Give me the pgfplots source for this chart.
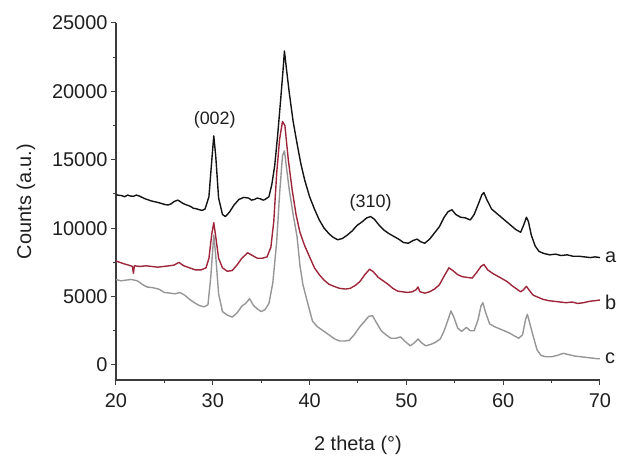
\documentclass[border=0pt]{standalone}
\usepackage{pgfplots}
\pgfplotsset{compat=1.18}
\usepackage{fontspec}
\setmainfont{Liberation Sans}
\definecolor{cA}{RGB}{20,20,20}
\definecolor{cB}{RGB}{158,38,58}
\definecolor{cC}{RGB}{150,150,150}
\definecolor{axc}{RGB}{60,60,60}
\begin{document}
\begin{tikzpicture}
\useasboundingbox (-116bp,-77bp) rectangle (501bp,380bp);
\begin{axis}[
  scale only axis,
  width=484bp, height=357bp,
  xmin=20, xmax=70, ymin=-1100, ymax=25000,
  axis lines*=left,
  axis line style={axc, line width=1.1bp},
  every tick/.style={axc, line width=1bp},
  tick align=outside,
  major tick length=5bp, minor tick length=3bp,
  xtick={20,30,40,50,60,70},
  ytick={0,5000,10000,15000,20000,25000},
  minor x tick num=1, minor y tick num=1,
  /pgf/number format/assume math mode=true,
  scaled y ticks=false,
  yticklabel={\pgfmathprintnumber[fixed,1000 sep={}]{\tick}},
  tick label style={font=\fontsize{20}{23}\selectfont, text=black!88},
  xticklabel style={yshift=-5bp},
  label style={font=\fontsize{20}{23}\selectfont, text=black!88},
  xlabel={2 theta (°)},
  ylabel={Counts (a.u.)},
  xlabel style={at={(axis description cs:0.5,-0.184)}, anchor=center},
  ylabel style={at={(axis description cs:-0.186,0.5)}, anchor=center},
  clip=false,
  every axis plot/.append style={line width=1.4bp, line join=round},
]
\addplot[cA] coordinates {
(20.0,12450)(20.3,12400)(20.6,12380)(20.9,12300)(21.2,12420)(21.5,12350)(21.8,12330)(22.1,12420)(22.4,12350)(22.7,12250)(23.0,12150)(23.3,12080)(23.6,12000)(23.9,11950)(24.2,11900)(24.5,11850)(24.8,11780)(25.1,11720)(25.4,11700)(25.7,11780)(26.0,11950)(26.4,12050)(26.9,11820)(27.2,11720)(27.5,11650)(27.8,11550)(28.0,11450)(28.3,11420)(28.6,11350)(28.9,11300)(29.2,11400)(29.6,12300)(29.9,15000)(30.1,16750)(30.3,15300)(30.6,12200)(31.0,11000)(31.3,10850)(31.7,11150)(32.2,11700)(32.7,12100)(33.2,12250)(33.7,12200)(34.0,12050)(34.3,12100)(34.6,12200)(34.9,12150)(35.2,12050)(35.4,12100)(35.8,12300)(36.1,13200)(36.4,14600)(36.7,16800)(37.0,19300)(37.25,21500)(37.4,22950)(37.6,21700)(37.9,19900)(38.3,17800)(38.7,16200)(39.1,14700)(39.5,13500)(40.0,12300)(40.5,11400)(41.0,10600)(41.5,10000)(42.0,9600)(42.4,9350)(42.9,9150)(43.4,9250)(43.9,9500)(44.4,9800)(44.9,10200)(45.4,10450)(45.9,10750)(46.3,10850)(46.7,10650)(47.2,10200)(47.7,9850)(48.2,9600)(48.7,9400)(49.2,9200)(49.7,8950)(50.2,8900)(50.7,9100)(51.1,9200)(51.5,9000)(51.9,8900)(52.4,9200)(52.9,9650)(53.4,10100)(53.9,10800)(54.3,11200)(54.7,11350)(55.1,11000)(55.6,10800)(56.1,10750)(56.6,10600)(57.0,11000)(57.4,11700)(57.8,12450)(58.0,12600)(58.3,12100)(58.8,11400)(59.3,11100)(59.8,10800)(60.3,10500)(60.8,10200)(61.3,9900)(61.8,9700)(62.1,10200)(62.4,10800)(62.6,10500)(62.9,9500)(63.3,8700)(63.7,8300)(64.2,8150)(64.8,8050)(65.4,8100)(66.0,8000)(66.6,8050)(67.2,7950)(67.8,7950)(68.4,7900)(69.0,7850)(69.5,7900)(70.0,7850)
};
\addplot[cB] coordinates {
(20.0,7600)(20.4,7500)(20.8,7400)(21.3,7300)(21.7,7200)(21.8,6700)(21.9,7250)(22.5,7200)(23.1,7250)(23.7,7200)(24.3,7150)(24.9,7200)(25.5,7250)(26.0,7300)(26.5,7500)(27.0,7250)(27.6,7100)(28.2,6950)(28.8,6950)(29.3,7100)(29.6,7800)(29.9,9600)(30.1,10400)(30.3,9400)(30.6,7800)(31.0,7100)(31.5,6850)(32.0,6900)(32.5,7300)(33.0,7800)(33.6,8200)(34.1,8000)(34.6,7800)(35.1,7800)(35.6,7900)(36.0,8600)(36.3,10500)(36.6,14000)(36.9,16500)(37.2,17800)(37.45,17500)(37.8,15000)(38.2,12800)(38.6,11000)(39.0,9700)(39.5,8700)(40.0,7900)(40.5,7100)(41.0,6600)(41.5,6200)(42.0,5900)(42.5,5750)(43.1,5600)(43.7,5550)(44.2,5600)(44.7,5800)(45.2,6100)(45.7,6600)(46.2,7000)(46.6,6800)(47.1,6400)(47.6,6150)(48.1,5900)(48.6,5600)(49.1,5400)(49.6,5350)(50.1,5300)(50.6,5350)(51.0,5500)(51.2,5700)(51.4,5350)(51.9,5250)(52.4,5350)(52.9,5550)(53.4,5850)(53.9,6500)(54.4,7100)(54.8,6900)(55.3,6600)(55.8,6450)(56.3,6400)(56.8,6350)(57.3,6800)(57.7,7200)(58.0,7350)(58.4,6950)(58.9,6700)(59.4,6500)(59.9,6300)(60.4,6100)(60.9,5800)(61.4,5550)(61.8,5350)(62.1,5500)(62.4,5750)(62.7,5450)(63.1,5100)(63.6,4950)(64.1,4800)(64.7,4700)(65.3,4650)(65.9,4600)(66.5,4550)(67.1,4600)(67.7,4500)(68.3,4550)(68.9,4650)(69.5,4700)(70.0,4750)
};
\addplot[cC] coordinates {
(20.0,6250)(20.5,6150)(21.0,6200)(21.6,6250)(22.2,6150)(22.7,5900)(23.2,5700)(23.8,5650)(24.4,5550)(25.0,5300)(25.6,5250)(26.1,5200)(26.6,5300)(27.1,5100)(27.6,4800)(28.1,4550)(28.6,4350)(29.1,4250)(29.5,4400)(29.8,6500)(30.1,9500)(30.3,8000)(30.6,5200)(31.0,3900)(31.5,3650)(32.0,3500)(32.5,3800)(33.0,4300)(33.4,4500)(33.8,4850)(34.2,4350)(34.6,4100)(35.0,3900)(35.4,4050)(35.8,4500)(36.2,6000)(36.6,9000)(36.9,12500)(37.2,15300)(37.4,15650)(37.6,14500)(37.9,12800)(38.3,11000)(38.7,9400)(39.0,7300)(39.3,5900)(39.7,4800)(40.3,3200)(40.8,2800)(41.4,2500)(42.0,2200)(42.6,1900)(43.1,1750)(43.6,1750)(44.1,1800)(44.6,2200)(45.2,2800)(45.7,3200)(46.1,3550)(46.5,3600)(46.9,3100)(47.4,2500)(47.9,2200)(48.4,1950)(48.9,1950)(49.4,2050)(49.9,1700)(50.4,1400)(50.8,1600)(51.2,1900)(51.6,1600)(52.0,1400)(52.5,1500)(53.0,1650)(53.5,1900)(53.9,2500)(54.3,3300)(54.6,3950)(54.9,3500)(55.3,2700)(55.7,2450)(56.2,2750)(56.6,2500)(57.0,2500)(57.4,3300)(57.7,4300)(57.9,4550)(58.2,3800)(58.6,3000)(59.1,2800)(59.6,2650)(60.1,2500)(60.6,2350)(61.1,2150)(61.6,1950)(62.0,2200)(62.3,3300)(62.5,3700)(62.8,2900)(63.1,2100)(63.5,1100)(63.9,700)(64.4,600)(65.0,600)(65.6,700)(66.2,850)(66.8,750)(67.4,650)(68.0,600)(68.6,550)(69.2,500)(69.8,450)(70.0,450)
};
\node[font=\fontsize{18}{21}\selectfont, text=black!88] at (axis cs:30.2,17900) {(002)};
\node[font=\fontsize{18}{21}\selectfont, text=black!88] at (axis cs:46.3,11830) {(310)};
\node[font=\fontsize{20}{23}\selectfont, text=black!88, anchor=west, inner sep=0pt] at (axis cs:70.5,7870) {a};
\node[font=\fontsize{20}{23}\selectfont, text=black!88, anchor=west, inner sep=0pt] at (axis cs:70.5,4600) {b};
\node[font=\fontsize{20}{23}\selectfont, text=black!88, anchor=west, inner sep=0pt] at (axis cs:70.5,510) {c};
\end{axis}
\end{tikzpicture}
\end{document}
